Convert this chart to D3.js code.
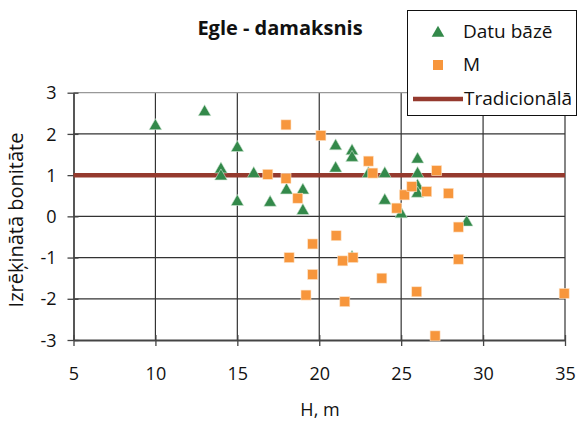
<!DOCTYPE html>
<html><head><meta charset="utf-8">
<script src="https://cdn.jsdelivr.net/npm/d3@7"></script>
<style>body{margin:0;background:#fff}svg text{font-family:"Open Sans",sans-serif;fill:#111}</style>
</head><body>
<svg id="c" width="578" height="421"></svg>
<script>
const title = "Egle - damaksnis";
const xTicks = [5,10,15,20,25,30,35];
const yTicks = [-3,-2,-1,0,1,2,3];
const datuX = [10,13,14,14,15,15,16,17,18,19,19,21,21,22,22,22,23,24,24,25,26,26,26,26,29];
const datuY = [2.22,2.56,1.17,1.0,1.69,0.38,1.06,0.36,0.66,0.66,0.16,1.73,1.19,1.61,1.45,-0.97,1.06,1.06,0.41,0.08,1.41,1.06,0.76,0.58,-0.12];
const mX = [17.97,20.1,16.86,17.97,18.69,23.0,23.27,24.73,25.2,25.65,26.56,27.17,27.88,28.49,28.49,19.6,18.16,19.6,19.19,21.03,21.43,22.06,23.82,21.56,25.95,27.07,34.95];
const mY = [2.22,1.96,1.02,0.92,0.44,1.34,1.05,0.2,0.52,0.72,0.6,1.11,0.56,-0.26,-1.04,-0.67,-1.0,-1.41,-1.91,-0.47,-1.08,-1.0,-1.5,-2.07,-1.83,-2.9,-1.87];
const tradValue = 1;
const legendLabels = ["Datu bāzē","M","Tradicionālā"];

const GREEN="#33894a", ORANGE="#f7963c", RED="#953a2e";
const svg = d3.select("#c");
const x = d3.scaleLinear().domain([5,35]).range([73.5,565]);
const y = d3.scaleLinear().domain([-3,3]).range([340,92.7]);
const fmt = d => String(d);

// grid
const g = svg.append("g");
g.selectAll(".vg").data(xTicks.slice(1)).join("line")
 .attr("x1",d=>x(d)).attr("x2",d=>x(d)).attr("y1",y(3)).attr("y2",y(-3))
 .attr("stroke","#333").attr("stroke-width",1.2);
g.selectAll(".hg").data(yTicks.slice(1)).join("line")
 .attr("x1",x(5)).attr("x2",x(35)).attr("y1",d=>y(d)).attr("y2",d=>y(d))
 .attr("stroke",d=>d===3?"#999":"#333").attr("stroke-width",1.2);

// axes
const xAxis = d3.axisBottom(x).tickValues(xTicks).tickSize(0).tickPadding(0).tickFormat(fmt);
const ax = svg.append("g").attr("transform",`translate(0,${y(-3)})`).call(xAxis);
ax.select(".domain").attr("stroke","#444").attr("stroke-width",1.8);
ax.selectAll(".tick line").attr("y1",-5).attr("y2",6).attr("stroke","#444").attr("stroke-width",1.3);
ax.selectAll(".tick text").attr("y",40).attr("dy",null).attr("font-size",18).attr("fill","#111")
  .style("font-family",'"Open Sans",sans-serif');

const yAxis = d3.axisLeft(y).tickValues(yTicks).tickSize(0).tickPadding(0).tickFormat(fmt);
const ay = svg.append("g").attr("transform",`translate(${x(5)},0)`).call(yAxis);
ay.select(".domain").attr("stroke","#444").attr("stroke-width",1.8);
ay.selectAll(".tick line").attr("x1",-6).attr("x2",5).attr("stroke","#444").attr("stroke-width",1.3);
ay.selectAll(".tick text").attr("x",-17).attr("dy","0.34em").attr("font-size",18).attr("fill","#111")
  .style("font-family",'"Open Sans",sans-serif');

// traditional line
svg.append("line").attr("x1",x(5)).attr("x2",x(35)).attr("y1",y(tradValue)).attr("y2",y(tradValue))
 .attr("stroke",RED).attr("stroke-width",4.5);

const triPath = "M0,-6.2L6.3,4.8L-6.3,4.8Z";
svg.append("g").selectAll("path").data(datuX.map((v,i)=>[v,datuY[i]])).join("path")
 .attr("d",triPath).attr("transform",d=>`translate(${x(d[0])},${y(d[1])})`)
 .attr("fill",GREEN).attr("stroke","#cfe5d3").attr("stroke-width",0.6);
svg.append("g").selectAll("rect").data(mX.map((v,i)=>[v,mY[i]])).join("rect")
 .attr("x",d=>x(d[0])-5).attr("y",d=>y(d[1])-5).attr("width",10).attr("height",10)
 .attr("fill",ORANGE).attr("stroke","#fde3c8").attr("stroke-width",0.6);

// titles
svg.append("text").attr("x",280).attr("y",35).attr("text-anchor","middle")
 .attr("font-size",20).attr("font-weight","bold").text(title);
svg.append("text").attr("x",320).attr("y",416).attr("text-anchor","middle").attr("font-size",18).text("H, m");
svg.append("text").attr("transform","translate(23,220) rotate(-90)").attr("text-anchor","middle")
 .attr("font-size",20).text("Izrēķinātā bonitāte");

// legend
const lg = svg.append("g");
lg.append("rect").attr("x",407.5).attr("y",10.5).attr("width",169).attr("height",105)
 .attr("fill","#fff").attr("stroke","#111").attr("stroke-width",1);
lg.append("path").attr("d",triPath).attr("transform","translate(438,32)").attr("fill",GREEN);
lg.append("rect").attr("x",433).attr("y",60).attr("width",10).attr("height",10).attr("fill",ORANGE);
lg.append("line").attr("x1",413).attr("x2",463).attr("y1",99).attr("y2",99).attr("stroke",RED).attr("stroke-width",4.5);
[38,71,105].forEach((yy,i)=>{
  lg.append("text").attr("x",i===2?464:463).attr("y",yy).attr("font-size",19).text(legendLabels[i]);
});
</script>
</body></html>
